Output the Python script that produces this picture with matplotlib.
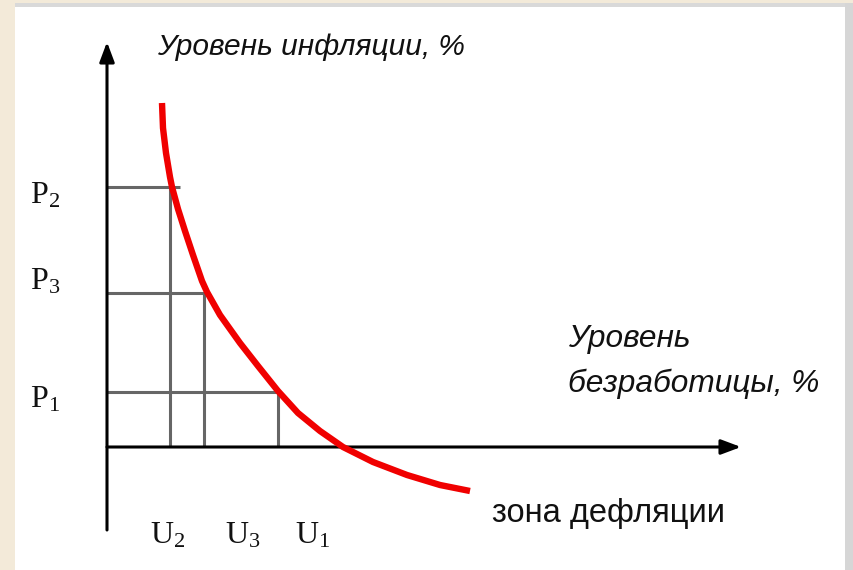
import matplotlib
matplotlib.use("Agg")
import matplotlib.pyplot as plt
from matplotlib.patches import Rectangle

# ---- data (abstract units, origin at the axis crossing) ----
curve_u = [5.5, 5.6, 5.9, 6.3, 6.5, 7.1, 7.8, 8.6, 9.5, 10.0, 11.3, 13.3, 15.1, 17.1, 19.1, 21.3, 23.6, 26.6, 30.0, 33.3, 36.3]
curve_p = [34.4, 31.9, 29.4, 27.0, 26.0, 23.8, 21.6, 19.2, 16.6, 15.5, 13.2, 10.4, 8.1, 5.6, 3.4, 1.6, 0.0, -1.5, -2.8, -3.8, -4.4]
u_labels = ["U_2", "U_3", "U_1"]
u_values = [6.3, 9.7, 17.1]
p_labels = ["P_2", "P_3", "P_1"]
p_values = [26.0, 15.4, 5.5]
y_title = "Уровень инфляции, %"
x_title = "Уровень\nбезработицы, %"
zone_text = "зона дефляции"

# ---- layout (label placement, not data) ----
u_label_x = [6.1, 13.6, 20.6]
u_label_base = -9.6
p_label_x = -6.2
p_label_base = [24.4, 15.7, 4.0]

W, H = 854, 570
fig = plt.figure(figsize=(W / 100, H / 100), dpi=100)
fig.patch.set_facecolor("white")

# frame decoration (beige page + grey border)
def px_rect(x0, y0, x1, y1, color):
    fig.patches.append(Rectangle((x0 / W, 1 - y1 / H), (x1 - x0) / W, (y1 - y0) / H,
                                 transform=fig.transFigure, facecolor=color,
                                 edgecolor="none", zorder=0))

px_rect(0, 0, 15, H, "#f3ead9")
px_rect(0, 0, W, 3, "#f3ead9")
px_rect(15, 3, W, 7, "#d9d9d9")
px_rect(845, 3, W, H, "#d6d6d6")

ax = fig.add_axes([0, 0, 1, 1])
ax.set_xlim(-10.7, 74.7)
ax.set_ylim(-12.3, 44.7)
ax.axis("off")
ax.patch.set_alpha(0)

# axes with arrows
arrow = dict(arrowstyle="-|>,head_length=1.2,head_width=0.45", lw=2.2, color="black",
             shrinkA=0, shrinkB=0)
ax.annotate("", xy=(0, 40.5), xytext=(0, -8.3), arrowprops=arrow)
ax.annotate("", xy=(63.4, 0), xytext=(0, 0), arrowprops=arrow)

# guide lines
grid_color = "#666666"
ax.hlines(p_values, 0, [u_values[0] + 1.0, u_values[1] + 0.3, u_values[2]],
          colors=grid_color, lw=2.2, zorder=2)
ax.vlines(u_values, 0, p_values, colors=grid_color, lw=2.2, zorder=2)

# curve
ax.plot(curve_u, curve_p, color="#f00000", lw=4.6, solid_capstyle="butt",
        solid_joinstyle="round", zorder=3)

# labels
plt.rcParams["mathtext.fontset"] = "custom"
plt.rcParams["mathtext.rm"] = "Liberation Serif"
plt.rcParams["mathtext.it"] = "Liberation Serif"
for lab, yb in zip(p_labels, p_label_base):
    base, sub = lab.split("_")
    ax.text(p_label_x, yb, r"$\mathrm{%s}_{\mathrm{%s}}$" % (base, sub), fontsize=23,
            ha="center", va="baseline", color="#111111")
for lab, xc in zip(u_labels, u_label_x):
    base, sub = lab.split("_")
    ax.text(xc, u_label_base, r"$\mathrm{%s}_{\mathrm{%s}}$" % (base, sub), fontsize=23,
            ha="center", va="baseline", color="#111111")

ax.text(5.0, 39.2, y_title, fontsize=21.5, style="italic", family="Liberation Sans",
        ha="left", va="baseline", color="#111111")
ax.text(46.1, 5.5, x_title, fontsize=22.8, style="italic", family="Liberation Sans",
        ha="left", va="baseline", color="#111111", linespacing=1.62)
ax.text(38.5, -7.5, zone_text, fontsize=23.5, family="Liberation Sans",
        ha="left", va="baseline", color="#111111")

fig.savefig("out.png", dpi=100)
